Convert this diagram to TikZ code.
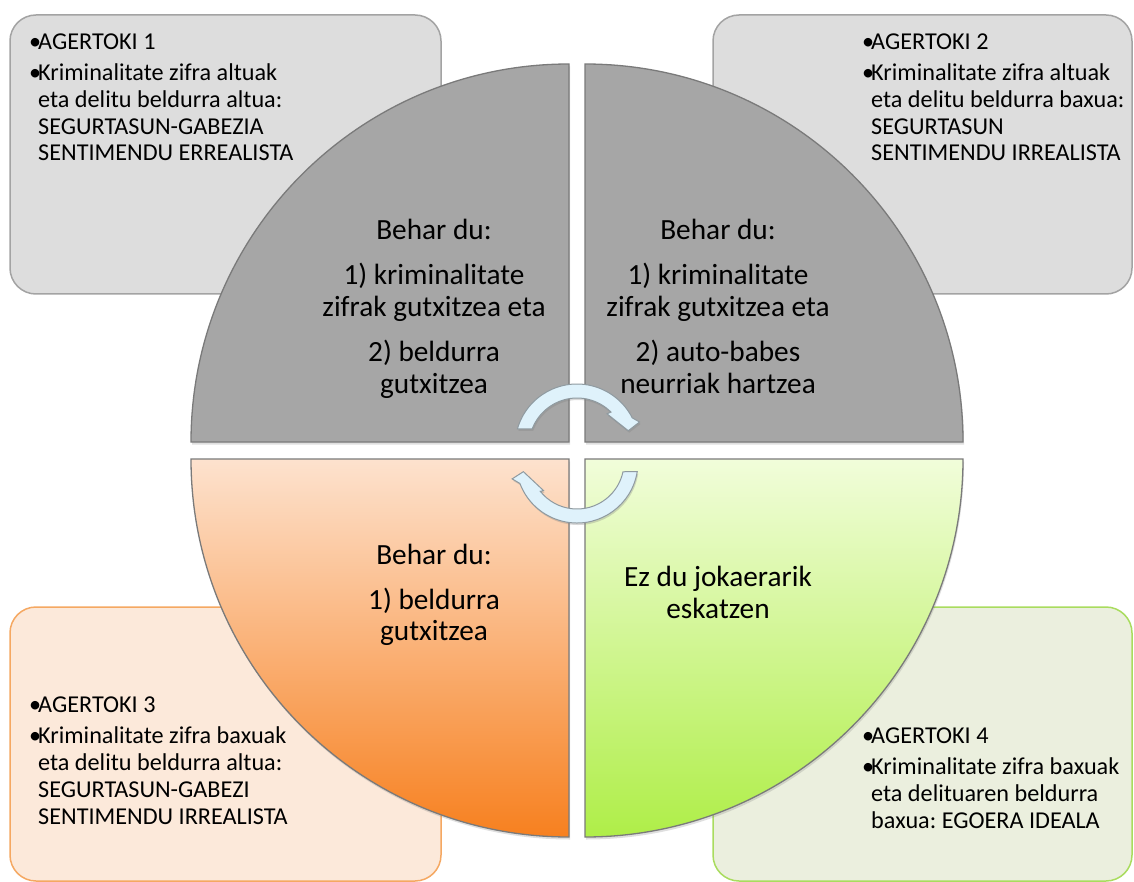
\documentclass[tikz,border=0pt]{standalone}
\usepackage{fontspec}
\setmainfont{Carlito}
\usetikzlibrary{shadows}
\definecolor{qgray}{HTML}{A6A6A6}
\definecolor{qline}{HTML}{7A7A7A}
\definecolor{boxgray}{HTML}{DDDDDD}
\definecolor{boxgrayline}{HTML}{A3A3A3}
\definecolor{peachbox}{HTML}{FCE9DA}
\definecolor{peachline}{HTML}{F5A862}
\definecolor{greenbox}{HTML}{EBEFDE}
\definecolor{greenline}{HTML}{A9DC5E}
\definecolor{orTop}{HTML}{FDE2CE}
\definecolor{orBot}{HTML}{F7801F}
\definecolor{grTop}{HTML}{F1FDDA}
\definecolor{grBot}{HTML}{AFEE48}
\definecolor{arrfill}{HTML}{DFF2FB}
\definecolor{arrline}{HTML}{8F9AA0}
\newcommand\mybul{\makebox[9pt][l]{•}}
\newcommand\myind{\hspace*{9pt}}
\frenchspacing
\tikzset{
  cornerbox/.style={rounded corners=26pt, line width=1.5pt},
  quadrant/.style={draw=qline, line width=1.3pt,
    drop shadow={shadow xshift=1pt, shadow yshift=-2.5pt, opacity=0.25}},
  cornertext/.style={font=\fontsize{24.2}{26.7}\selectfont, align=left, inner sep=0pt, anchor=base west},
  quadtext/.style={font=\fontsize{29.3}{31.7}\selectfont, align=center, inner sep=0pt, anchor=base},
  cycarrow/.style={fill=arrfill, draw=arrline, line width=1pt,
    drop shadow={shadow xshift=1pt, shadow yshift=-2pt, opacity=0.3}}
}
\begin{document}
\begin{tikzpicture}[x=1pt,y=1pt]
\useasboundingbox (0,0) rectangle (1134,-882);
\clip (0,0) rectangle (1134,-882);
\fill[white] (0,0) rectangle (1134,-882);
% corner boxes
\draw[cornerbox, fill=boxgray, draw=boxgrayline] (10,-15) rectangle (441,-294);
\draw[cornerbox, fill=boxgray, draw=boxgrayline] (713,-15) rectangle (1132,-294);
\draw[cornerbox, fill=peachbox, draw=peachline] (10,-607) rectangle (441,-881);
\draw[cornerbox, fill=greenbox, draw=greenline] (713,-607) rectangle (1132,-881);
% quadrants
\path[quadrant, fill=qgray] (569,-442) -- (191,-442) arc[start angle=180, end angle=90, radius=378] -- cycle;
\path[quadrant, fill=qgray] (585,-442) -- (585,-64) arc[start angle=90, end angle=0, radius=378] -- cycle;
\path[quadrant, top color=orTop, bottom color=orBot] (569,-459) -- (569,-837) arc[start angle=270, end angle=180, radius=378] -- cycle;
\path[quadrant, top color=grTop, bottom color=grBot] (585,-459) -- (963,-459) arc[start angle=0, end angle=-90, radius=378] -- cycle;
% corner texts (base = last line)
\node[cornertext] (t1) at (29,-161) {\mybul AGERTOKI 1\\[4.3pt]
\mybul Kriminalitate zifra altuak\\
\myind eta delitu beldurra altua:\\
\myind SEGURTASUN-GABEZIA\\
\myind SENTIMENDU ERREALISTA};
\node[cornertext] (t2) at (862,-161) {\mybul AGERTOKI 2\\[4.3pt]
\mybul Kriminalitate zifra altuak\\
\myind eta delitu beldurra baxua:\\
\myind SEGURTASUN\\
\myind SENTIMENDU IRREALISTA};
\node[cornertext] (t3) at (29,-824) {\mybul AGERTOKI 3\\[4.3pt]
\mybul Kriminalitate zifra baxuak\\
\myind eta delitu beldurra altua:\\
\myind SEGURTASUN-GABEZI\\
\myind SENTIMENDU IRREALISTA};
\node[cornertext] (t4) at (862,-828.3) {\mybul AGERTOKI 4\\[4.3pt]
\mybul Kriminalitate zifra baxuak\\
\myind eta delituaren beldurra\\
\myind baxua: EGOERA IDEALA};
% quadrant texts (base = last line)
\node[quadtext] (q1) at (434,-393.3) {Behar du:\\[13.3pt]
1) kriminalitate\\ zifrak gutxitzea eta\\[13.3pt]
2) beldurra\\ gutxitzea};
\node[quadtext] (q2) at (718,-393.3) {Behar du:\\[13.3pt]
1) kriminalitate\\ zifrak gutxitzea eta\\[13.3pt]
2) auto-babes\\ neurriak hartzea};
\node[quadtext] (q3) at (434,-640.7) {Behar du:\\[13.3pt]
1) beldurra\\ gutxitzea};
\node[quadtext] (q4) at (718,-618) {Ez du jokaerarik\\ eskatzen};
% cycle arrows
\begin{scope}[shift={(577,-446)}]
\path[cycarrow] (164:62) arc[start angle=164, end angle=27, radius=62]
  -- (21:67) -- (16.6:53.5) -- (47:44) -- (45:48)
  arc[start angle=45, end angle=159, radius=48] -- cycle;
\end{scope}
\begin{scope}[shift={(577,-462)}]
\path[cycarrow] (-9:61) arc[start angle=-9, end angle=-159.4, radius=61]
  -- (-165.4:67) -- (-169.8:54.5) -- (-139.4:44) -- (-141.4:47)
  arc[start angle=-141.4, end angle=-12, radius=47] -- cycle;
\end{scope}
\end{tikzpicture}
\end{document}
